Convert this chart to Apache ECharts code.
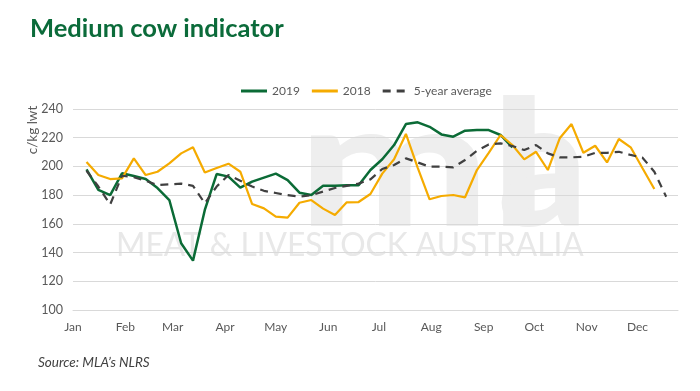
<!DOCTYPE html>
<html>
<head>
<meta charset="utf-8">
<script src="https://cdn.jsdelivr.net/npm/echarts@6/dist/echarts.min.js"></script>
<style>
html,body{margin:0;padding:0;background:#fff;}
#c{width:700px;height:391px;}
</style>
</head>
<body>
<div id="c"></div>
<script>
// Weekly observation dates (2019 calendar, MM-DD)
const weekDates = ['01-09','01-16','01-23','01-30','02-06','02-13','02-20','02-27','03-06','03-13',
  '03-20','03-27','04-03','04-10','04-17','04-24','05-01','05-08','05-15','05-22',
  '05-29','06-05','06-12','06-19','06-26','07-03','07-10','07-17','07-24','07-31',
  '08-07','08-14','08-21','08-28','09-04','09-11','09-18','09-25','10-02','10-09',
  '10-16','10-23','10-30','11-06','11-13','11-20','11-27','12-04','12-11','12-18'];

const series2019 = [198,183.6,180,195.2,193.3,191.2,184.9,176.6,146.5,134.4,
  169.7,194.7,192.9,185.2,189.4,192.2,195,190.5,181.7,180.1,
  186.6,186.6,186.9,186.9,197.5,205,214.9,229.5,230.7,227.6,
  222.3,220.7,224.9,225.3,225.3,221.9,213.3];

const series2018 = [203.1,194,191.2,191.7,205.6,194,196.3,202.1,209.1,213.3,
  195.8,198.9,201.9,196.3,173.8,170.8,165,164.3,174.7,176.6,
  170.6,166.2,175,175.2,180.8,195,205,222.6,199,177.1,
  179.4,180.1,178.5,197.5,209.5,221.9,214.9,204.9,210.2,197.5,
  219.6,229.5,209.5,214.4,202.8,219.1,213.3,198.7,184.3];

const series5yr = [197,186,173.5,193.5,192.5,190,187,187.5,188,186.5,
  174.3,186,194,190,186,183,181.5,180,179,180,
  182.5,185,186.5,188,191,198.2,201,205.6,202.8,199.8,
  199.8,199.4,204.5,210.9,215.3,216.1,214.2,211.4,214.9,209.1,
  206.3,206.3,206.8,209.5,209.5,210.2,208,206.1,196.3,178.9];

const monthLabels = ['Jan','Feb','Mar','Apr','May','Jun','Jul','Aug','Sep','Oct','Nov','Dec'];
const monthStarts = ['01-01','02-01','03-01','04-01','05-01','06-01','07-01','08-01','09-01','10-01','11-01','12-01'];

const seriesNames = ['2019','2018','5-year average'];
const yAxisTitle = 'c/kg lwt';
const chartTitle = 'Medium cow indicator';
const sourceNote = 'Source: MLA\u2019s NLRS';

function dayOfYear(md){
  const p = md.split('-');
  return Math.round((Date.UTC(2019, +p[0]-1, +p[1]) - Date.UTC(2019,0,1)) / 86400000);
}
const weekDays = weekDates.map(dayOfYear);
const monthDays = monthStarts.map(dayOfYear);
function pairs(vals){ return vals.map((v,i)=>[weekDays[i], v]); }

const SOLID_ICON = 'path://M0,0H26V3H0Z';
const DASH_ICON = 'path://M0,0H8V3H0Z M14,0H22V3H14Z M22,0H26V0.01H22Z';

const FONT = 'Lato, "Open Sans", sans-serif';
const chart = echarts.init(document.getElementById('c'), null, {renderer:'canvas'});
chart.setOption({
  backgroundColor:'#ffffff',
  animation:false,
  textStyle:{fontFamily:FONT},
  title:{
    text: chartTitle, left: 25, top: 11,
    textStyle:{fontFamily:FONT, fontWeight:'bold', fontSize:25.5, color:'#0b6b3a'}
  },
  graphic:[
    {type:'text', z:-10, x:298, y:82, scaleX:1.3, silent:true,
     style:{text:'ml', font:'900 175px Lato, sans-serif', fill:'#eeeeee'}},
    {type:'text', z:-10, x:498, y:82, scaleX:1.0, silent:true,
     style:{text:'a', font:'900 175px Lato, sans-serif', fill:'#eeeeee'}},
    {type:'text', z:-10, x:116, y:229, scaleX:0.96, silent:true,
     style:{text:'MEAT & LIVESTOCK AUSTRALIA', font:'33px Lato, sans-serif', fill:'#e8e8e8'}},
    {type:'text', x:33, y:130, rotation:Math.PI/2, silent:true,
     style:{text:yAxisTitle, font:'13.5px Lato, sans-serif', fill:'#595959', align:'center', verticalAlign:'middle'}},
    {type:'text', x:38, y:356, silent:true,
     style:{text:sourceNote, font:'italic 13.5px Lato, sans-serif', fill:'#404040'}}
  ],
  legend:{
    left:236, top:80, itemGap:12, itemWidth:26, itemHeight:3, symbolKeepAspect:false,
    data: [
      {name:seriesNames[0], icon:SOLID_ICON},
      {name:seriesNames[1], icon:SOLID_ICON},
      {name:seriesNames[2], icon:DASH_ICON}
    ],
    textStyle:{fontFamily:FONT, fontSize:12, color:'#595959'}
  },
  grid:{left:73, right:22, top:109, bottom:81},
  xAxis:{
    type:'value', min:0, max:358,
    splitLine:{show:false},
    axisTick:{show:false},
    axisLine:{show:true, lineStyle:{color:'#d9d9d9'}},
    axisLabel:{
      customValues: monthDays,
      formatter: v => monthLabels[monthDays.indexOf(v)] || '',
      color:'#595959', fontSize:12, fontFamily:FONT, margin:11
    }
  },
  yAxis:{
    type:'value', min:100, max:240, interval:20,
    axisLine:{show:false}, axisTick:{show:false},
    splitLine:{lineStyle:{color:'#d9d9d9', width:1}},
    axisLabel:{color:'#595959', fontSize:12.5, fontFamily:FONT, margin:10}
  },
  series:[
    {name:seriesNames[0], type:'line', symbol:'none', data:pairs(series2019), z:3,
     lineStyle:{color:'#0b6b36', width:2.5}, itemStyle:{color:'#0b6b36'}},
    {name:seriesNames[1], type:'line', symbol:'none', data:pairs(series2018), z:4,
     lineStyle:{color:'#f5ab00', width:2.2}, itemStyle:{color:'#f5ab00'}},
    {name:seriesNames[2], type:'line', symbol:'none', data:pairs(series5yr), z:5,
     lineStyle:{color:'#404040', width:2.2, type:[8,6]}, itemStyle:{color:'#404040'}}
  ]
});
</script>
</body>
</html>
